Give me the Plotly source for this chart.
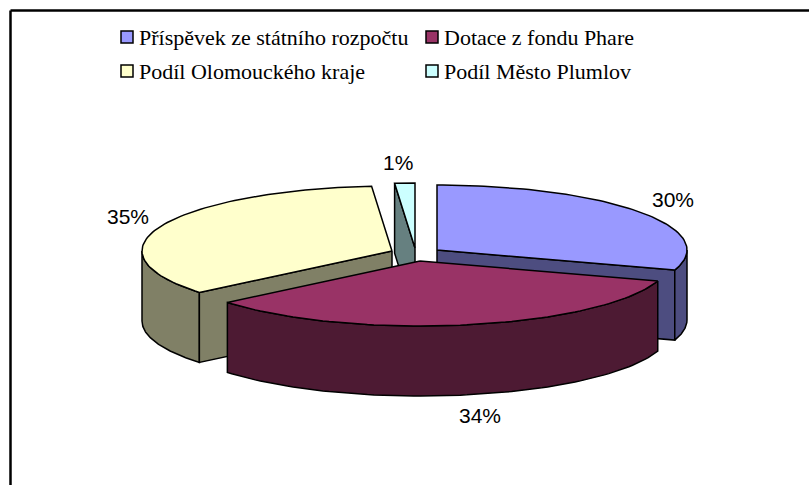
import math
import plotly.graph_objects as go

categories = ["Příspěvek ze státního rozpočtu", "Dotace z fondu Phare", "Podíl Olomouckého kraje", "Podíl Město Plumlov"]
values = [30.0, 34.0, 34.7, 1.3]
top_colors = ["#9999FF", "#993366", "#FFFFCC", "#CCFFFF"]
wall_colors = ["#4D4D80", "#4D1A33", "#808066", "#668080"]

W, H = 809, 485
RX, RY, DEPTH = 250, 65, 70
centers = [(437, 250), (420, 261), (392, 251), (415, 248)]
legend_x = [(120, 139), (425, 444), (120, 139), (425, 444)]
legend_y = [37, 37, 71, 71]
label_pos = [(673, 199), (480, 415), (128, 216), (398, 162)]
LINE = dict(color="black", width=1.5)

fig = go.Figure()


def pt(c, deg):
    r = math.radians(deg)
    return c[0] + RX * math.sin(r), c[1] - RY * math.cos(r)


def poly(xy, color):
    xs = [p[0] for p in xy] + [xy[0][0]]
    ys = [p[1] for p in xy] + [xy[0][1]]
    fig.add_trace(go.Scatter(x=xs, y=ys, mode="lines", fill="toself", fillcolor=color,
                             line=LINE, hoverinfo="skip", showlegend=False))


def arc(c, a, b, dy=0, n=80):
    out = []
    for i in range(n + 1):
        x, y = pt(c, a + (b - a) * i / n)
        out.append((x, y + dy))
    return out


total = sum(values)
angles = []
cum = 0
for v in values:
    a0 = cum / total * 360
    cum += v
    angles.append((a0, cum / total * 360))


def top(i):
    c = centers[i]
    a, b = angles[i]
    poly([c] + arc(c, a, b), top_colors[i])


def cut_face(i, deg):
    c = centers[i]
    p = pt(c, deg)
    poly([c, p, (p[0], p[1] + DEPTH), (c[0], c[1] + DEPTH)], wall_colors[i])


def outer_wall(i, a, b):
    c = centers[i]
    poly(arc(c, a, b) + arc(c, b, a, DEPTH), wall_colors[i])


# back to front: small slice, yellow, blue, maroon
cut_face(3, angles[3][0])
top(3)
outer_wall(2, angles[2][0], 270)
cut_face(2, angles[2][0])
top(2)
cut_face(0, angles[0][1])
outer_wall(0, 90, angles[0][1])
top(0)
outer_wall(1, angles[1][0], angles[1][1])
top(1)

# legend
for i, name in enumerate(categories):
    fig.add_trace(go.Scatter(x=[legend_x[i][0] + 7], y=[legend_y[i]], mode="markers",
                             marker=dict(symbol="square", size=12, color=top_colors[i],
                                         line=dict(color="black", width=1.5)),
                             hoverinfo="skip", showlegend=False))
    fig.add_annotation(x=legend_x[i][1], y=legend_y[i], text=name, showarrow=False, xanchor="left",
                       yanchor="middle", xshift=-2,
                       font=dict(family="Liberation Serif", size=22, color="black"))

# percentage labels
for i, v in enumerate(values):
    fig.add_annotation(x=label_pos[i][0], y=label_pos[i][1], text=f"{round(v / total * 100)}%", showarrow=False,
                       font=dict(family="Liberation Sans", size=21, color="black"))

# frame: only top and left edges are in the picture
fig.add_shape(type="line", x0=10.5, y0=10.5, x1=W, y1=10.5, line=dict(color="black", width=2.5), layer="below")
fig.add_shape(type="line", x0=10.5, y0=10.5, x1=10.5, y1=H, line=dict(color="black", width=2.5), layer="below")
fig.update_layout(width=W, height=H, margin=dict(l=0, r=0, t=0, b=0), paper_bgcolor="white", plot_bgcolor="white",
                  showlegend=False,
                  xaxis=dict(range=[0, W], visible=False, fixedrange=True),
                  yaxis=dict(range=[H, 0], visible=False, fixedrange=True))
fig.write_html("out.html", config=dict(displayModeBar=False),
               post_script="document.body.style.margin='0';document.body.style.overflow='hidden';")
